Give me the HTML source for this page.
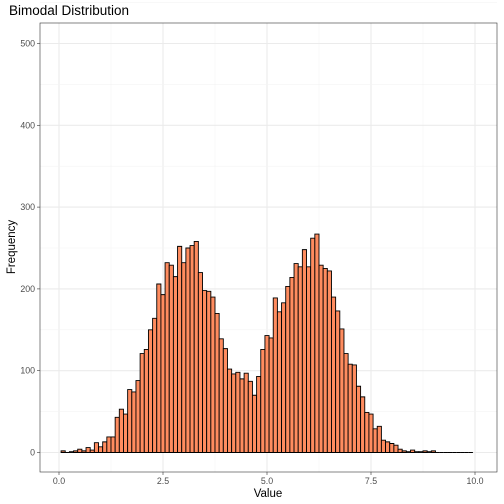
<!DOCTYPE html>
<html><head><meta charset="utf-8">
<style>
body{margin:0;background:#fff;font-family:"Liberation Sans",sans-serif;}
svg{display:block}
</style></head>
<body>
<svg id="chart" width="504" height="504" xmlns="http://www.w3.org/2000/svg">
<rect width="504" height="504" fill="#fff"/>
<text x="9" y="15" font-size="13.5" fill="#000">Bimodal Distribution</text>
<text x="268" y="497" font-size="11.5" text-anchor="middle" fill="#000">Value</text>
<text transform="translate(15,247) rotate(-90)" font-size="11.5" text-anchor="middle" fill="#000">Frequency</text>
<g id="grid"></g>
<g id="bars"></g>
<g id="axes"></g>
<rect x="40" y="23" width="457" height="449" fill="none" stroke="#333" stroke-width="0.6"/>
</svg>
<script>
const binStart = 0.05;
const binWidth = 0.1;
const counts = [2,0,1,2,4,2,6,3,12,7,13,19,19,43,53,47,77,74,88,121,126,150,164,206,193,232,229,215,252,232,250,253,258,220,198,197,190,170,139,127,102,96,98,90,97,87,70,93,
126,143,140,189,172,183,203,214,231,227,248,227,262,267,229,225,222,190,173,151,121,108,107,81,68,49,47,29,32,15,13,11,9,4,2,1,3,1,1,2,1,2,0,0,0,0,0,0,0,0,0,0,0,0,0,0,0,0,0,0];
const xTicks = [0, 2.5, 5, 7.5, 10];
const xTickLabels = ["0.0","2.5","5.0","7.5","10.0"];
const yTicks = [0,100,200,300,400,500];
const yTickLabels = ["0","100","200","300","400","500"];

const NS = "http://www.w3.org/2000/svg";
const X = v => 59 + v * 41.6;
const Y = v => 452.5 - v * 0.818;
function mk(tag, attrs, parent){const e=document.createElementNS(NS,tag);for(const k in attrs)e.setAttribute(k,attrs[k]);parent.appendChild(e);return e;}
const grid = document.getElementById('grid');
const bars = document.getElementById('bars');
const axes = document.getElementById('axes');

for (let i=0;i<xTicks.length;i++){
  const l = mk('line',{x1:X(xTicks[i]),x2:X(xTicks[i]),y1:23,y2:472,stroke:'#ebebeb','stroke-width':1.1},grid);
  
  
  if(i<xTicks.length-1){const m=(xTicks[i]+xTicks[i+1])/2;
    const ml=mk('line',{x1:X(m),x2:X(m),y1:23,y2:472,stroke:'#f3f3f3','stroke-width':0.6},grid);
    
    }
  const t = mk('line',{x1:X(xTicks[i]),x2:X(xTicks[i]),y1:472,y2:475,stroke:'#333','stroke-width':0.6},axes);
  
  
  const tx = mk('text',{x:X(xTicks[i]),y:484,'font-size':'8.8','text-anchor':'middle',fill:'#4d4d4d'},axes);
  tx.textContent = xTickLabels[i];
  
  
}
for (let i=0;i<yTicks.length;i++){
  const l = mk('line',{x1:40,x2:497,y1:Y(yTicks[i]),y2:Y(yTicks[i]),stroke:'#ebebeb','stroke-width':1.1},grid);
  
  
  const m = yTicks[i]+50;
  const ml = mk('line',{x1:40,x2:497,y1:Y(m),y2:Y(m),stroke:'#f3f3f3','stroke-width':0.6},grid);
  
  
  const t = mk('line',{x1:37,x2:40,y1:Y(yTicks[i]),y2:Y(yTicks[i]),stroke:'#333','stroke-width':0.6},axes);
  
  
  const tx = mk('text',{x:35,y:Y(yTicks[i])+3,'font-size':'8.8','text-anchor':'end',fill:'#4d4d4d'},axes);
  tx.textContent = yTickLabels[i];
  
  
}
for (let i=0;i<counts.length;i++){
  const x0 = binStart + i*binWidth;
  if (x0 + binWidth > 10.01) break;
  const xa = X(x0), xb = X(x0+binWidth), yt = Y(counts[i]), yb = Y(0);
  const r = mk('path',{d:`M${xa},${yb}L${xa},${yt}L${xb},${yt}L${xb},${yb}Z`,fill:'#ff8c5f',stroke:'#000','stroke-width':0.9},bars);
  
  
}
</script>
</body></html>
